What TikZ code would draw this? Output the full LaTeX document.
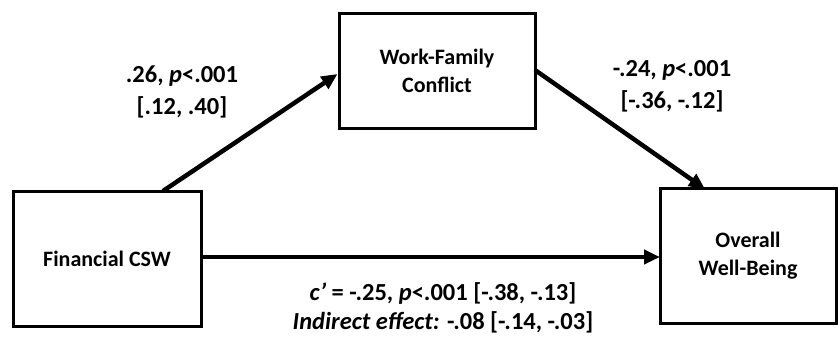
\documentclass[tikz,border=0pt]{standalone}
\usepackage{fontspec}
\setmainfont{Carlito}
\usetikzlibrary{arrows.meta}
\begin{document}
\begin{tikzpicture}[x=1pt,y=-1pt,
  box/.style={draw,line width=3pt,inner sep=0pt,font=\bfseries\fontsize{22}{28}\selectfont,align=center},
  arr/.style={line width=4.5pt,-{Triangle[length=16pt,width=14pt]}},
  lab/.style={font=\bfseries\fontsize{24.5}{32}\selectfont,align=center,inner sep=0pt}]
\useasboundingbox (0,0) rectangle (838,338);
\node[box,minimum width=188pt,minimum height=135pt] (fin) at (107,258.5) {Financial CSW};
\node[box,minimum width=196pt,minimum height=115pt] (wfc) at (437,70.5) {Work-Family\\Conflict};
\node[box,minimum width=176pt,minimum height=135pt] (owb) at (748,255.5) {Overall\\Well-Being};
\coordinate (a1) at (163,191);
\coordinate (a2) at (535,70);
\coordinate (b2) at (705,189);
\coordinate (c1) at (201,257);
\coordinate (c2) at (660,257);
\draw[arr] (a1) -- (wfc.west|-0,74);
\draw[arr] (a2) -- (b2);
\draw[arr] (c1) -- (c2);
\node[lab] (l1) at (182,92) {.26, \textit{p}<.001\\{}[.12, .40]};
\node[lab] (l2) at (672,86) {-.24, \textit{p}<.001\\{}[-.36, -.12]};
\node[lab,font=\bfseries\fontsize{24.5}{29}\selectfont] (l3) at (443,308) {\textit{c\char"2019} = -.25, \textit{p}<.001 [-.38, -.13]\\\textit{Indirect effect:} -.08 [-.14, -.03]};
\end{tikzpicture}
\end{document}
